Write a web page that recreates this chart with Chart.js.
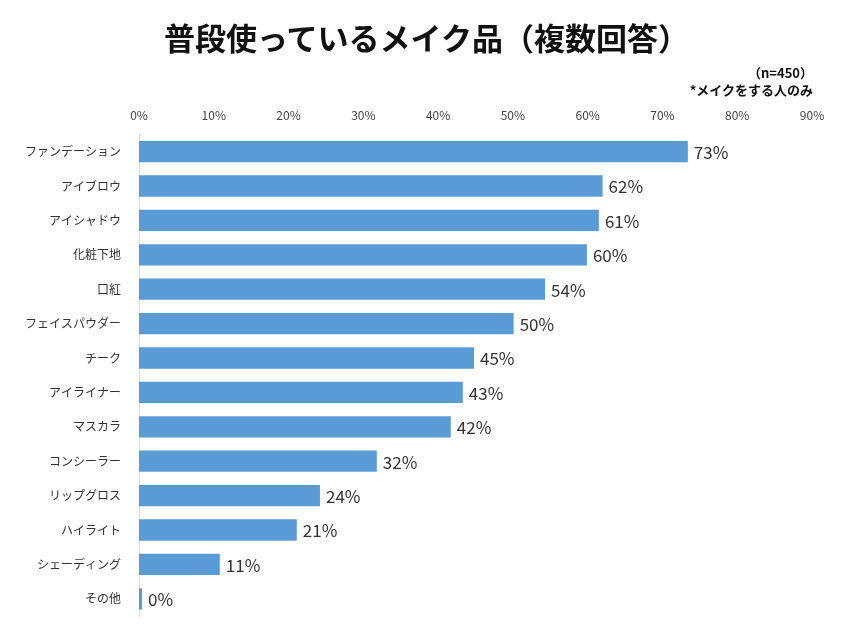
<!DOCTYPE html>
<html>
<head>
<meta charset="utf-8">
<script src="https://cdn.jsdelivr.net/npm/chart.js@4"></script>
<style>
  body { margin: 0; background: #fff; font-family: 'Noto Sans CJK JP', sans-serif; }
  #wrap { position: relative; width: 853px; height: 640px; }
  #title { position: absolute; top: 14px; left: 0; width: 853px; text-align: center; font-size: 31px; font-weight: bold; color: #111; }
  #note { position: absolute; top: 64px; right: 40px; text-align: right; font-size: 13px; line-height: 17px; color: #111; font-weight: bold; }
</style>
</head>
<body>
<div id="wrap">
  <div id="title">普段使っているメイク品（複数回答）</div>
  <div id="note">（n=450）<br>*メイクをする人のみ</div>
  <canvas id="c" width="853" height="640"></canvas>
</div>
<script>
const categories = ['ファンデーション', 'アイブロウ', 'アイシャドウ', '化粧下地', '口紅', 'フェイスパウダー', 'チーク', 'アイライナー', 'マスカラ', 'コンシーラー', 'リップグロス', 'ハイライト', 'シェーディング', 'その他']
const values = [73.4, 62, 61.5, 59.9, 54.3, 50.1, 44.8, 43.3, 41.7, 31.8, 24.2, 21.1, 10.8, 0.4]
const valueLabels = ['73%', '62%', '61%', '60%', '54%', '50%', '45%', '43%', '42%', '32%', '24%', '21%', '11%', '0%']

// 棒の右側に数値ラベル
const barLabels = {
  id: 'barLabels',
  afterDatasetsDraw(chart) {
    const ctx = chart.ctx
    const meta = chart.getDatasetMeta(0)
    ctx.save()
    ctx.font = '17px "Noto Sans CJK JP"'
    ctx.fillStyle = '#333'
    ctx.textBaseline = 'middle'
    meta.data.forEach((bar, i) => {
      ctx.fillText(valueLabels[i], bar.x + 6, bar.y + 1)
    })
    ctx.restore()
  }
}

new Chart(document.getElementById('c'), {
  type: 'bar',
  data: {
    labels: categories,
    datasets: [{
      data: values,
      backgroundColor: '#5B9BD5',
      barPercentage: 0.62,
      categoryPercentage: 1
    }]
  },
  options: {
    indexAxis: 'y',
    responsive: false,
    animation: false,
    layout: { padding: { top: 104, right: 41, bottom: 24, left: 0 } },
    plugins: { legend: { display: false }, tooltip: { enabled: false } },
    scales: {
      x: {
        position: 'top',
        min: 0,
        max: 90,
        ticks: {
          stepSize: 10,
          callback: v => v + '%',
          color: '#444',
          font: { size: 12, family: 'Noto Sans CJK JP' },
          padding: 4
        },
        grid: { display: false },
        border: { display: false }
      },
      y: {
        afterFit(scale) { scale.width = 139 },
        ticks: {
          color: '#333',
          font: { size: 12, family: 'Noto Sans CJK JP' },
          padding: 10
        },
        grid: { display: false },
        border: { color: '#d9d9d9' }
      }
    }
  },
  plugins: [barLabels]
})
</script>
</body>
</html>
